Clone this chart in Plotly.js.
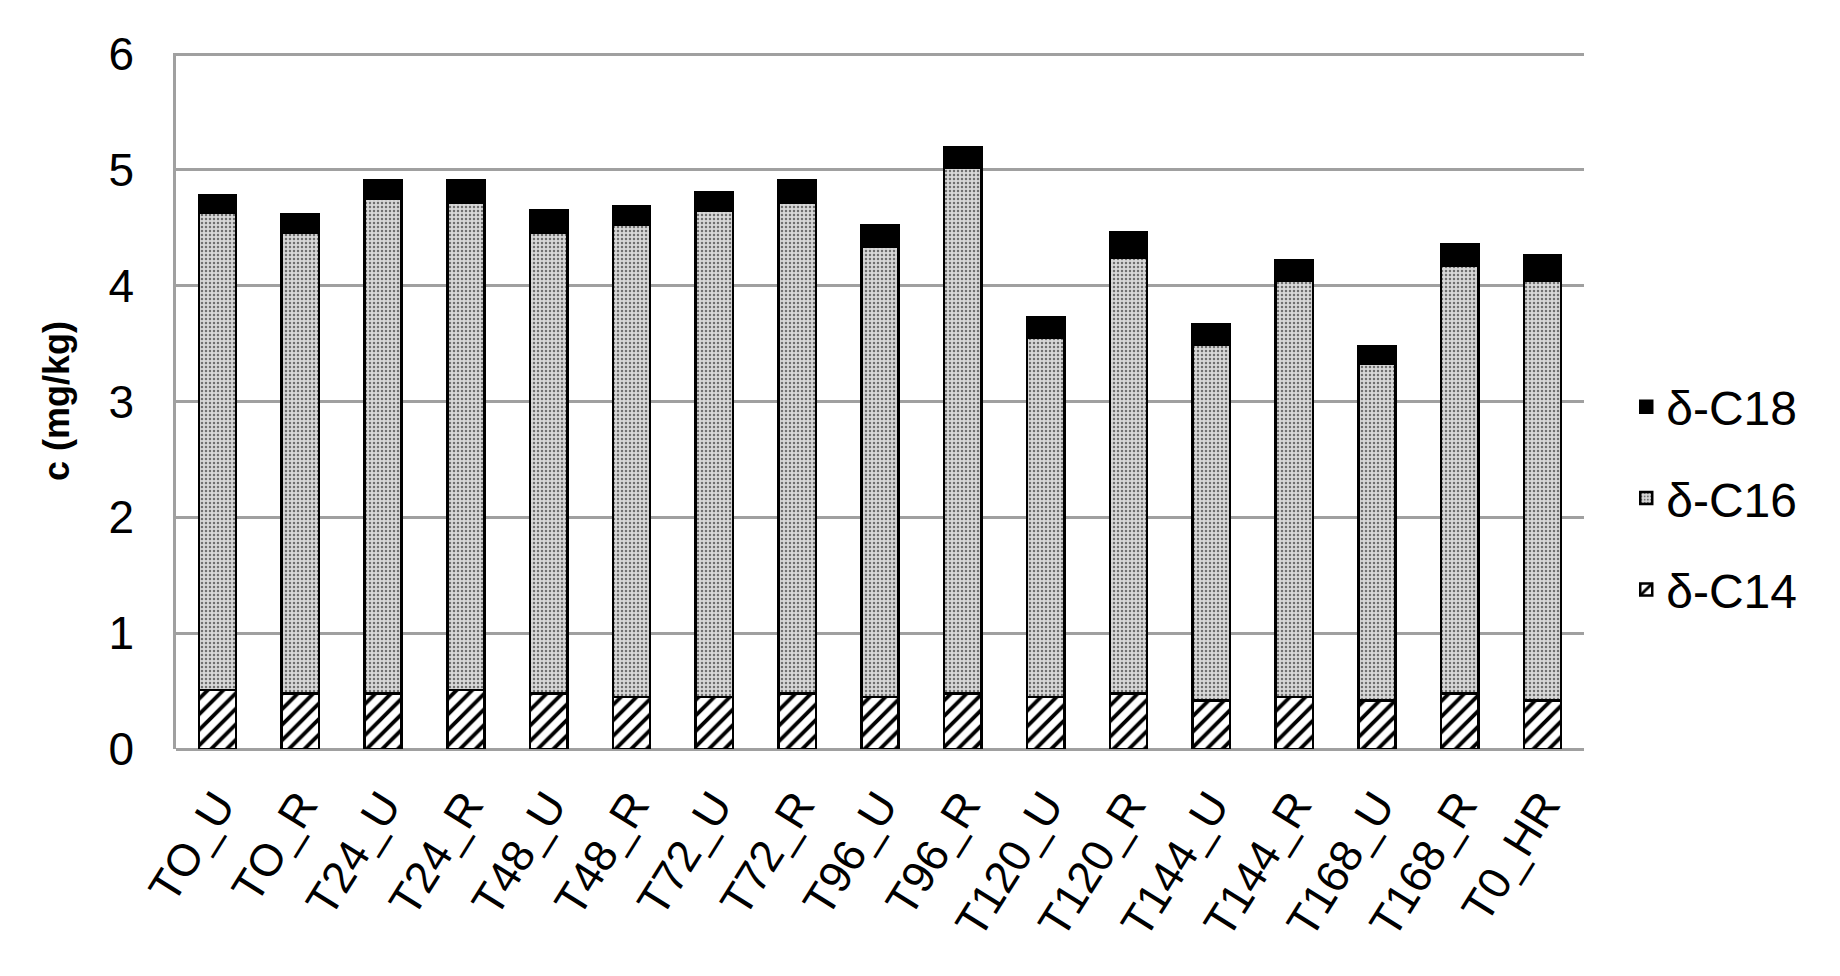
<!DOCTYPE html>
<html>
<head>
<meta charset="utf-8">
<script src="https://cdn.plot.ly/plotly-3.0.1.min.js"></script>
<style>
  html, body { margin: 0; padding: 0; background: #fff; }
  #chart { width: 1840px; height: 976px; }
</style>
</head>
<body>
<div id="chart"></div>
<script>
var samples = ['TO_U', 'TO_R', 'T24_U', 'T24_R', 'T48_U', 'T48_R', 'T72_U', 'T72_R', 'T96_U',
               'T96_R', 'T120_U', 'T120_R', 'T144_U', 'T144_R', 'T168_U', 'T168_R', 'T0_HR'];
var c14 = [0.51, 0.48, 0.48, 0.51, 0.48, 0.45, 0.45, 0.48, 0.45, 0.48, 0.45, 0.48, 0.42, 0.45, 0.42, 0.48, 0.42];
var c16 = [4.12, 3.98, 4.27, 4.21, 3.98, 4.08, 4.20, 4.24, 3.89, 4.54, 3.10, 3.76, 3.07, 3.59, 2.91, 3.69, 3.62];
var c18 = [0.15, 0.16, 0.16, 0.19, 0.19, 0.16, 0.16, 0.19, 0.18, 0.18, 0.18, 0.22, 0.18, 0.18, 0.15, 0.19, 0.22];
var yTicks = [0, 1, 2, 3, 4, 5, 6];

var outline = { color: '#000', width: 2.5 };

var data = [{
    x: samples,
    y: c14,
    name: 'δ-C14',
    type: 'bar',
    legendgroup: 'c14',
    legendrank: 3,
    marker: {
        color: '#fff',
        line: outline,
        pattern: { shape: '/', fgcolor: '#000', bgcolor: '#fff', size: 11, solidity: 0.35 }
    }
}, {
    x: samples,
    y: c16,
    name: 'δ-C16',
    type: 'bar',
    legendgroup: 'c16',
    legendrank: 2,
    marker: {
        color: '#c8c8c8',
        line: outline,
        pattern: { shape: '.', fgcolor: '#707070', bgcolor: '#d8d8d8', size: 4, solidity: 0.3 }
    }
}, {
    x: samples,
    y: c18,
    name: 'δ-C18',
    type: 'bar',
    legendgroup: 'c18',
    legendrank: 1,
    marker: {
        color: '#000',
        line: outline
    }
}];

var layout = {
    width: 1840,
    height: 976,
    barmode: 'stack',
    bargap: 0.55,
    paper_bgcolor: '#fff',
    plot_bgcolor: '#fff',
    font: { family: 'Liberation Sans, Arial, sans-serif', color: '#000' },
    margin: { l: 176, r: 256, t: 53, b: 227 },
    xaxis: {
        type: 'category',
        tickangle: -58,
        tickfont: { size: 45 },
        showgrid: false,
        showline: false,
        ticks: '',
        ticklabelstandoff: 20
    },
    yaxis: {
        range: [0, 6.01],
        tickvals: yTicks,
        tickfont: { size: 46 },
        showgrid: true,
        gridcolor: '#a0a0a0',
        gridwidth: 2.5,
        zeroline: true,
        zerolinecolor: '#a0a0a0',
        zerolinewidth: 2.5,
        showline: true,
        linecolor: '#a0a0a0',
        linewidth: 2.5,
        ticks: '',
        ticklabelstandoff: 30,
        title: { text: '<b>c (mg/kg)</b>', font: { size: 36 }, standoff: 28 }
    },
    legend: {
        x: 1.03,
        y: 0.36,
        xanchor: 'left',
        yanchor: 'middle',
        traceorder: 'grouped',
        tracegroupgap: 26,
        font: { size: 48 },
        itemwidth: 30
    }
};

Plotly.newPlot('chart', data, layout, { displayModeBar: false });
</script>
</body>
</html>
